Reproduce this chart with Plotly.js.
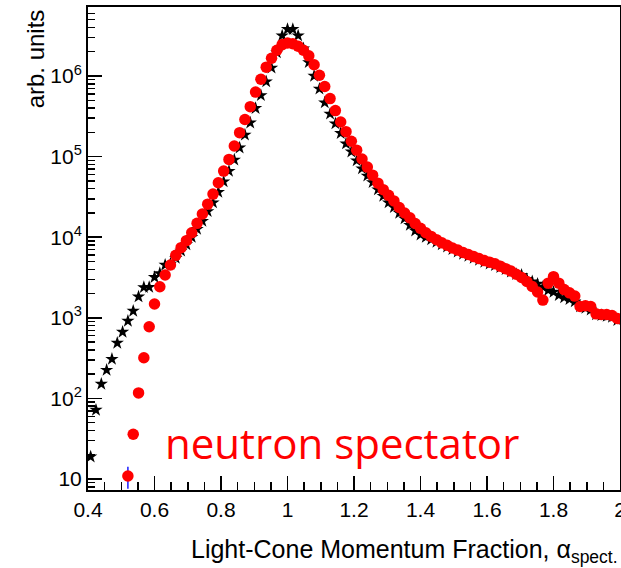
<!DOCTYPE html>
<html>
<head>
<meta charset="utf-8">
<script src="https://cdn.plot.ly/plotly-3.0.1.min.js"></script>
<style>
html,body{margin:0;padding:0;background:#fff;}
#chart{width:621px;height:568px;}
</style>
</head>
<body>
<div id="chart"></div>
<script>
// Bin centres (width 0.016 from 0.4 to 2.0)
const alphaBins = [];
for (let k = 0; k < 100; k++) alphaBins.push(+(0.408 + 0.016 * k).toFixed(3));

// Black stars (reference distribution)
const starValues = [
  18.9, 71.8, 151, 225, 308, 487, 667, 913, 1214, 1828, 2389, 2400, 3185, 3566, 4520,
  4677, 5495, 6761, 8128, 10000, 12589, 15849, 20893, 26915, 36308, 48978, 66069, 91201,
  128825, 186209, 263027, 398107, 575440, 851138, 1258925, 1949845, 3162278, 3801894,
  3801894, 3162278, 2187762, 1479108, 1000000,
  691831, 467735, 338844, 257040, 194984, 144544, 114815, 89125, 70795, 57544, 47863,
  38905, 32359, 26915, 23442, 19953,
  16982, 14125, 12023, 10715, 10000, 9333, 8710, 8128, 7586, 7079, 6607, 6166, 5821,
  5495, 5188, 4898, 4677, 4467, 4217, 3981, 3715, 3467, 3388, 3020, 2818, 2630, 2399,
  2188, 2089, 1905, 1778, 1698, 1585, 1380, 1318, 1259, 1096, 1072, 1047, 1023, 933
];

// Red circles (neutron spectator)
const neutronValues = [
  null, null, null, null, null, null, null,
  10.9, 35.9, 117, 320, 776, 1483, 2432, 3396, 4519, 5957, 7413, 9057, 11376, 14859,
  19409, 25704, 34277, 47315, 66069, 92257, 135200, 198200, 288400, 416900, 631000,
  912000, 1288000, 1660000, 2089000, 2455000, 2570000, 2512000, 2344000, 2089000,
  1778000, 1380000, 1023000, 741000, 525000, 372000, 269000, 204000, 155000, 120200,
  93300, 74100, 58900, 46800, 38900, 33100, 28200, 23400, 19950, 17380, 14790, 12880,
  11350, 10230, 9330, 8510, 7940, 7360, 6920, 6460, 6100, 5750, 5430, 5130, 4900, 4680,
  4370, 4070, 3800, 3470, 3160, 2820, 2450, 2090, 1660, 2690, 3240, 2690, 2240, 2040,
  1860, 1380, 1410, 1380, 1120, 1100, 1100, 1070, 980
];
// error on the first (lowest) neutron point, the only one visible
const neutronErrors = neutronValues.map((v, i) => (i === 7 ? 3.3 : 0));

const xTickVals = [0.4, 0.6, 0.8, 1.0, 1.2, 1.4, 1.6, 1.8, 2.0];
const xTickText = ['0.4', '0.6', '0.8', '1', '1.2', '1.4', '1.6', '1.8', '2'];
const yTickVals = [10, 100, 1000, 10000, 100000, 1000000];
const yTickText = ['10', '10<sup>2</sup>', '10<sup>3</sup>', '10<sup>4</sup>', '10<sup>5</sup>', '10<sup>6</sup>'];

const FONT = 'Liberation Sans, Arial, Helvetica, sans-serif';

const traces = [
  {
    x: alphaBins, y: starValues, type: 'scatter', mode: 'markers',
    marker: {symbol: 'star', size: 10, color: '#000000', line: {width: 0}},
    showlegend: false, cliponaxis: true
  },
  {
    x: alphaBins, y: neutronValues, type: 'scatter', mode: 'markers',
    marker: {symbol: 'circle', size: 11.5, color: '#ff0000', line: {width: 0}},
    error_y: {type: 'data', array: neutronErrors, visible: true, color: '#1a1aff', thickness: 1.5, width: 0},
    showlegend: false, cliponaxis: true
  }
];

const layout = {
  width: 621, height: 568,
  margin: {l: 88, r: 1, t: 7, b: 78, pad: 0},
  paper_bgcolor: '#ffffff', plot_bgcolor: '#ffffff',
  font: {family: FONT, color: '#000000', size: 21},
  xaxis: {
    range: [0.4, 2.0],
    tickmode: 'array', tickvals: xTickVals, ticktext: xTickText,
    ticklabeloverflow: 'allow',
    showgrid: false, zeroline: false,
    showline: true, linecolor: '#000', linewidth: 2, mirror: true,
    ticks: 'inside', ticklen: 14, tickwidth: 1.5, tickcolor: '#000',
    minor: {dtick: 0.05, tick0: 0.4, ticks: 'inside', ticklen: 8, tickwidth: 1.5, tickcolor: '#000', showgrid: false},
    tickfont: {family: FONT, size: 21, color: '#000'}
  },
  yaxis: {
    type: 'log', range: [0.864, 6.856],
    tickmode: 'array', tickvals: yTickVals, ticktext: yTickText,
    ticklabeloverflow: 'allow',
    showgrid: false, zeroline: false,
    showline: true, linecolor: '#000', linewidth: 2, mirror: true,
    ticks: 'inside', ticklen: 14, tickwidth: 1.5, tickcolor: '#000',
    minor: {dtick: 'D1', ticks: 'inside', ticklen: 7, tickwidth: 1.5, tickcolor: '#000', showgrid: false},
    tickfont: {family: FONT, size: 21, color: '#000'}
  },
  annotations: [
    {
      text: 'arb. units', xref: 'paper', yref: 'paper',
      x: -0.098, y: 1.0, xanchor: 'center', yanchor: 'top', textangle: -90,
      showarrow: false, font: {family: FONT, size: 24, color: '#000'}
    },
    {
      text: 'Light-Cone Momentum Fraction, α<sub>spect.</sub>', xref: 'paper', yref: 'paper',
      x: 1.0, y: -0.09, xanchor: 'right', yanchor: 'top',
      showarrow: false, font: {family: FONT, size: 25, color: '#000'}
    },
    {
      text: 'neutron spectator', xref: 'paper', yref: 'paper',
      x: 0.477, y: 0.099, xanchor: 'center', yanchor: 'middle',
      showarrow: false, font: {family: 'Open Sans, sans-serif', size: 42, color: '#ff0000'}
    }
  ]
};

Plotly.newPlot('chart', traces, layout, {staticPlot: true, displayModeBar: false});
</script>
</body>
</html>
